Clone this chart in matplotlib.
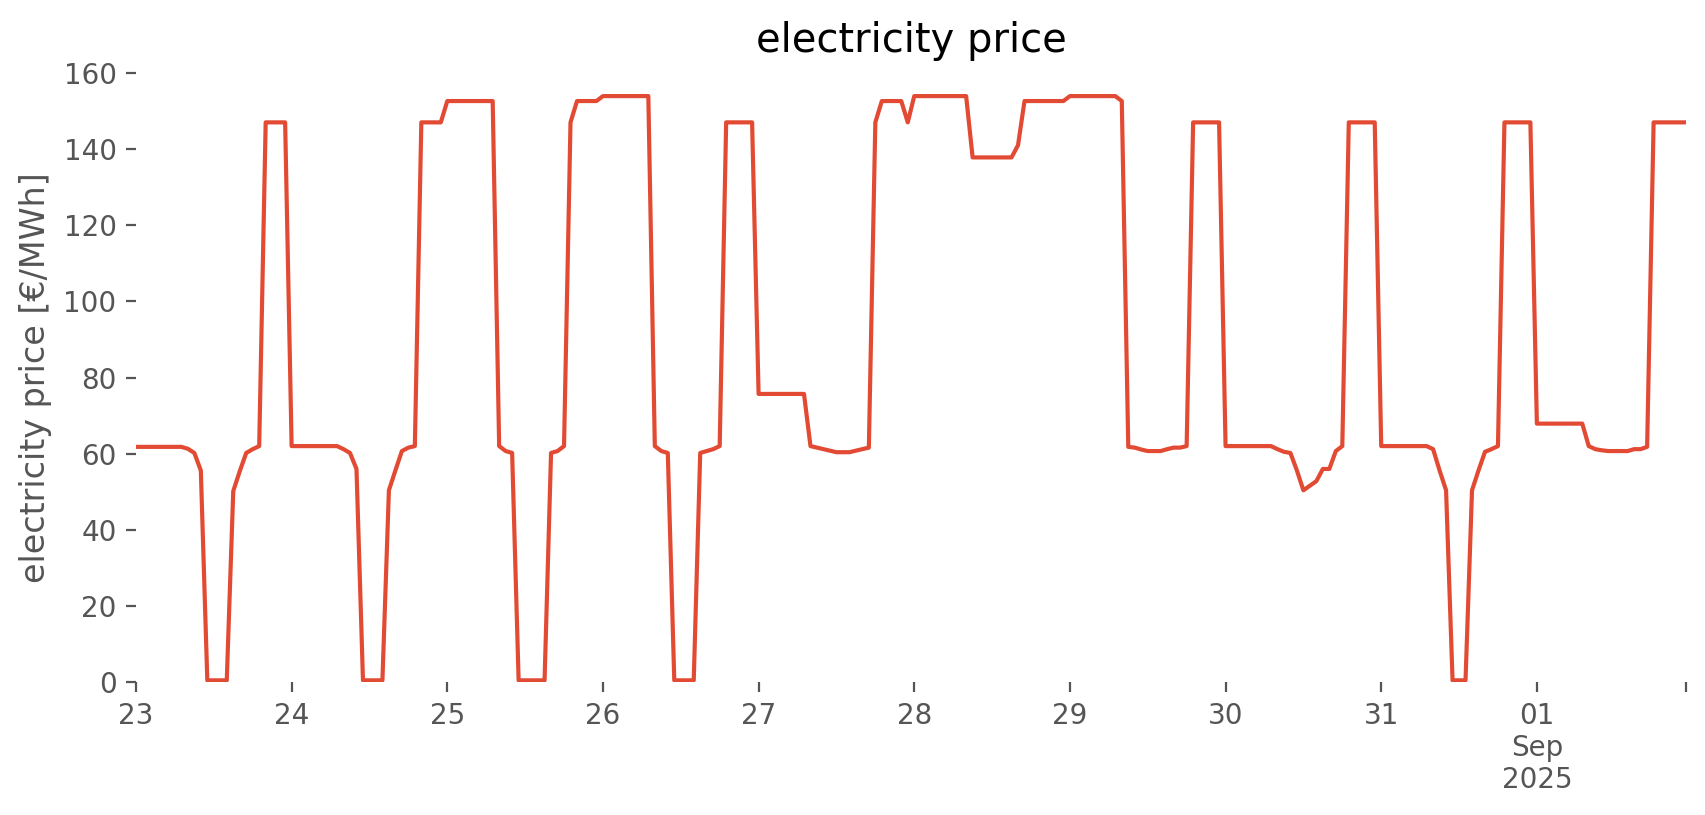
import matplotlib
matplotlib.use("Agg")
import matplotlib.pyplot as plt
import pandas as pd

# hourly electricity price [€/MWh], one list per day (00:00 ... 23:00)
aug23 = [61.8, 61.8, 61.8, 61.8, 61.8, 61.8, 61.8, 61.8, 61.3, 60.2, 55.6, 0.5,
         0.5, 0.5, 0.5, 50.2, 55.4, 60.2, 61.2, 62.0, 147.0, 147.0, 147.0, 147.0]
aug24 = [62.0, 62.0, 62.0, 62.0, 62.0, 62.0, 62.0, 62.0, 61.2, 60.2, 56.0, 0.5,
         0.5, 0.5, 0.5, 50.4, 55.6, 60.7, 61.6, 62.0, 147.0, 147.0, 147.0, 147.0]
aug25 = [152.6, 152.6, 152.6, 152.6, 152.6, 152.6, 152.6, 152.6, 62.0, 60.7, 60.2, 0.5,
         0.5, 0.5, 0.5, 0.5, 60.2, 60.7, 62.0, 147.0, 152.6, 152.6, 152.6, 152.6]
aug26 = [153.9, 153.9, 153.9, 153.9, 153.9, 153.9, 153.9, 153.9, 62.0, 60.7, 60.2, 0.5,
         0.5, 0.5, 0.5, 60.2, 60.7, 61.2, 62.0, 147.0, 147.0, 147.0, 147.0, 147.0]
aug27 = [75.7, 75.7, 75.7, 75.7, 75.7, 75.7, 75.7, 75.7, 62.0, 61.6, 61.2, 60.8,
         60.4, 60.4, 60.4, 60.8, 61.2, 61.6, 147.0, 152.6, 152.6, 152.6, 152.6, 147.0]
aug28 = [153.9, 153.9, 153.9, 153.9, 153.9, 153.9, 153.9, 153.9, 153.9, 137.8, 137.8, 137.8,
         137.8, 137.8, 137.8, 137.8, 141.0, 152.6, 152.6, 152.6, 152.6, 152.6, 152.6, 152.6]
aug29 = [153.9, 153.9, 153.9, 153.9, 153.9, 153.9, 153.9, 153.9, 152.6, 61.8, 61.6, 61.1,
         60.7, 60.7, 60.7, 61.2, 61.6, 61.6, 62.0, 147.0, 147.0, 147.0, 147.0, 147.0]
aug30 = [62.0, 62.0, 62.0, 62.0, 62.0, 62.0, 62.0, 62.0, 61.2, 60.5, 60.2, 55.6,
         50.4, 51.6, 52.8, 56.0, 56.0, 60.7, 62.0, 147.0, 147.0, 147.0, 147.0, 147.0]
aug31 = [62.0, 62.0, 62.0, 62.0, 62.0, 62.0, 62.0, 62.0, 61.2, 55.6, 50.4, 0.5,
         0.5, 0.5, 50.4, 55.6, 60.5, 61.2, 62.0, 147.0, 147.0, 147.0, 147.0, 147.0]
sep01 = [67.9, 67.9, 67.9, 67.9, 67.9, 67.9, 67.9, 67.9, 62.0, 61.2, 60.9, 60.7,
         60.7, 60.7, 60.7, 61.2, 61.2, 61.8, 147.0, 147.0, 147.0, 147.0, 147.0, 147.0]

days = [aug23, aug24, aug25, aug26, aug27, aug28, aug29, aug30, aug31, sep01]
tick_labels = ["23", "24", "25", "26", "27", "28", "29", "30", "31", "01\nSep\n2025", ""]
y_ticks = [0, 20, 40, 60, 80, 100, 120, 140, 160]

price = [v for d in days for v in d]
times = pd.date_range("2025-08-23 00:00", periods=len(price), freq="h")

plt.style.use("ggplot")
fig = plt.figure(figsize=(8.53, 4.075), dpi=200)
fig.patch.set_facecolor("white")
ax = fig.add_axes([0.0797, 0.1629, 0.9086, 0.7477])
ax.set_facecolor("white")
ax.grid(False)
for s in ax.spines.values():
    s.set_visible(False)

ax.plot(times, price, color="#E24A33", linewidth=1.5)

day_starts = list(pd.date_range("2025-08-23", periods=10, freq="D")) + [times[-1]]
ax.set_xticks(day_starts)
ax.set_xticklabels(tick_labels)
ax.set_yticks(y_ticks)
ax.set_xlim(times[0], times[-1])
ax.set_ylim(0, 160)
ax.tick_params(colors="#555555", labelsize=10)

ax.set_title("electricity price", fontsize=14.4, color="black", pad=7.5)
ax.set_ylabel("electricity price [€/MWh]", fontsize=12, color="#555555")

fig.savefig("out.png", dpi=200, facecolor="white")
